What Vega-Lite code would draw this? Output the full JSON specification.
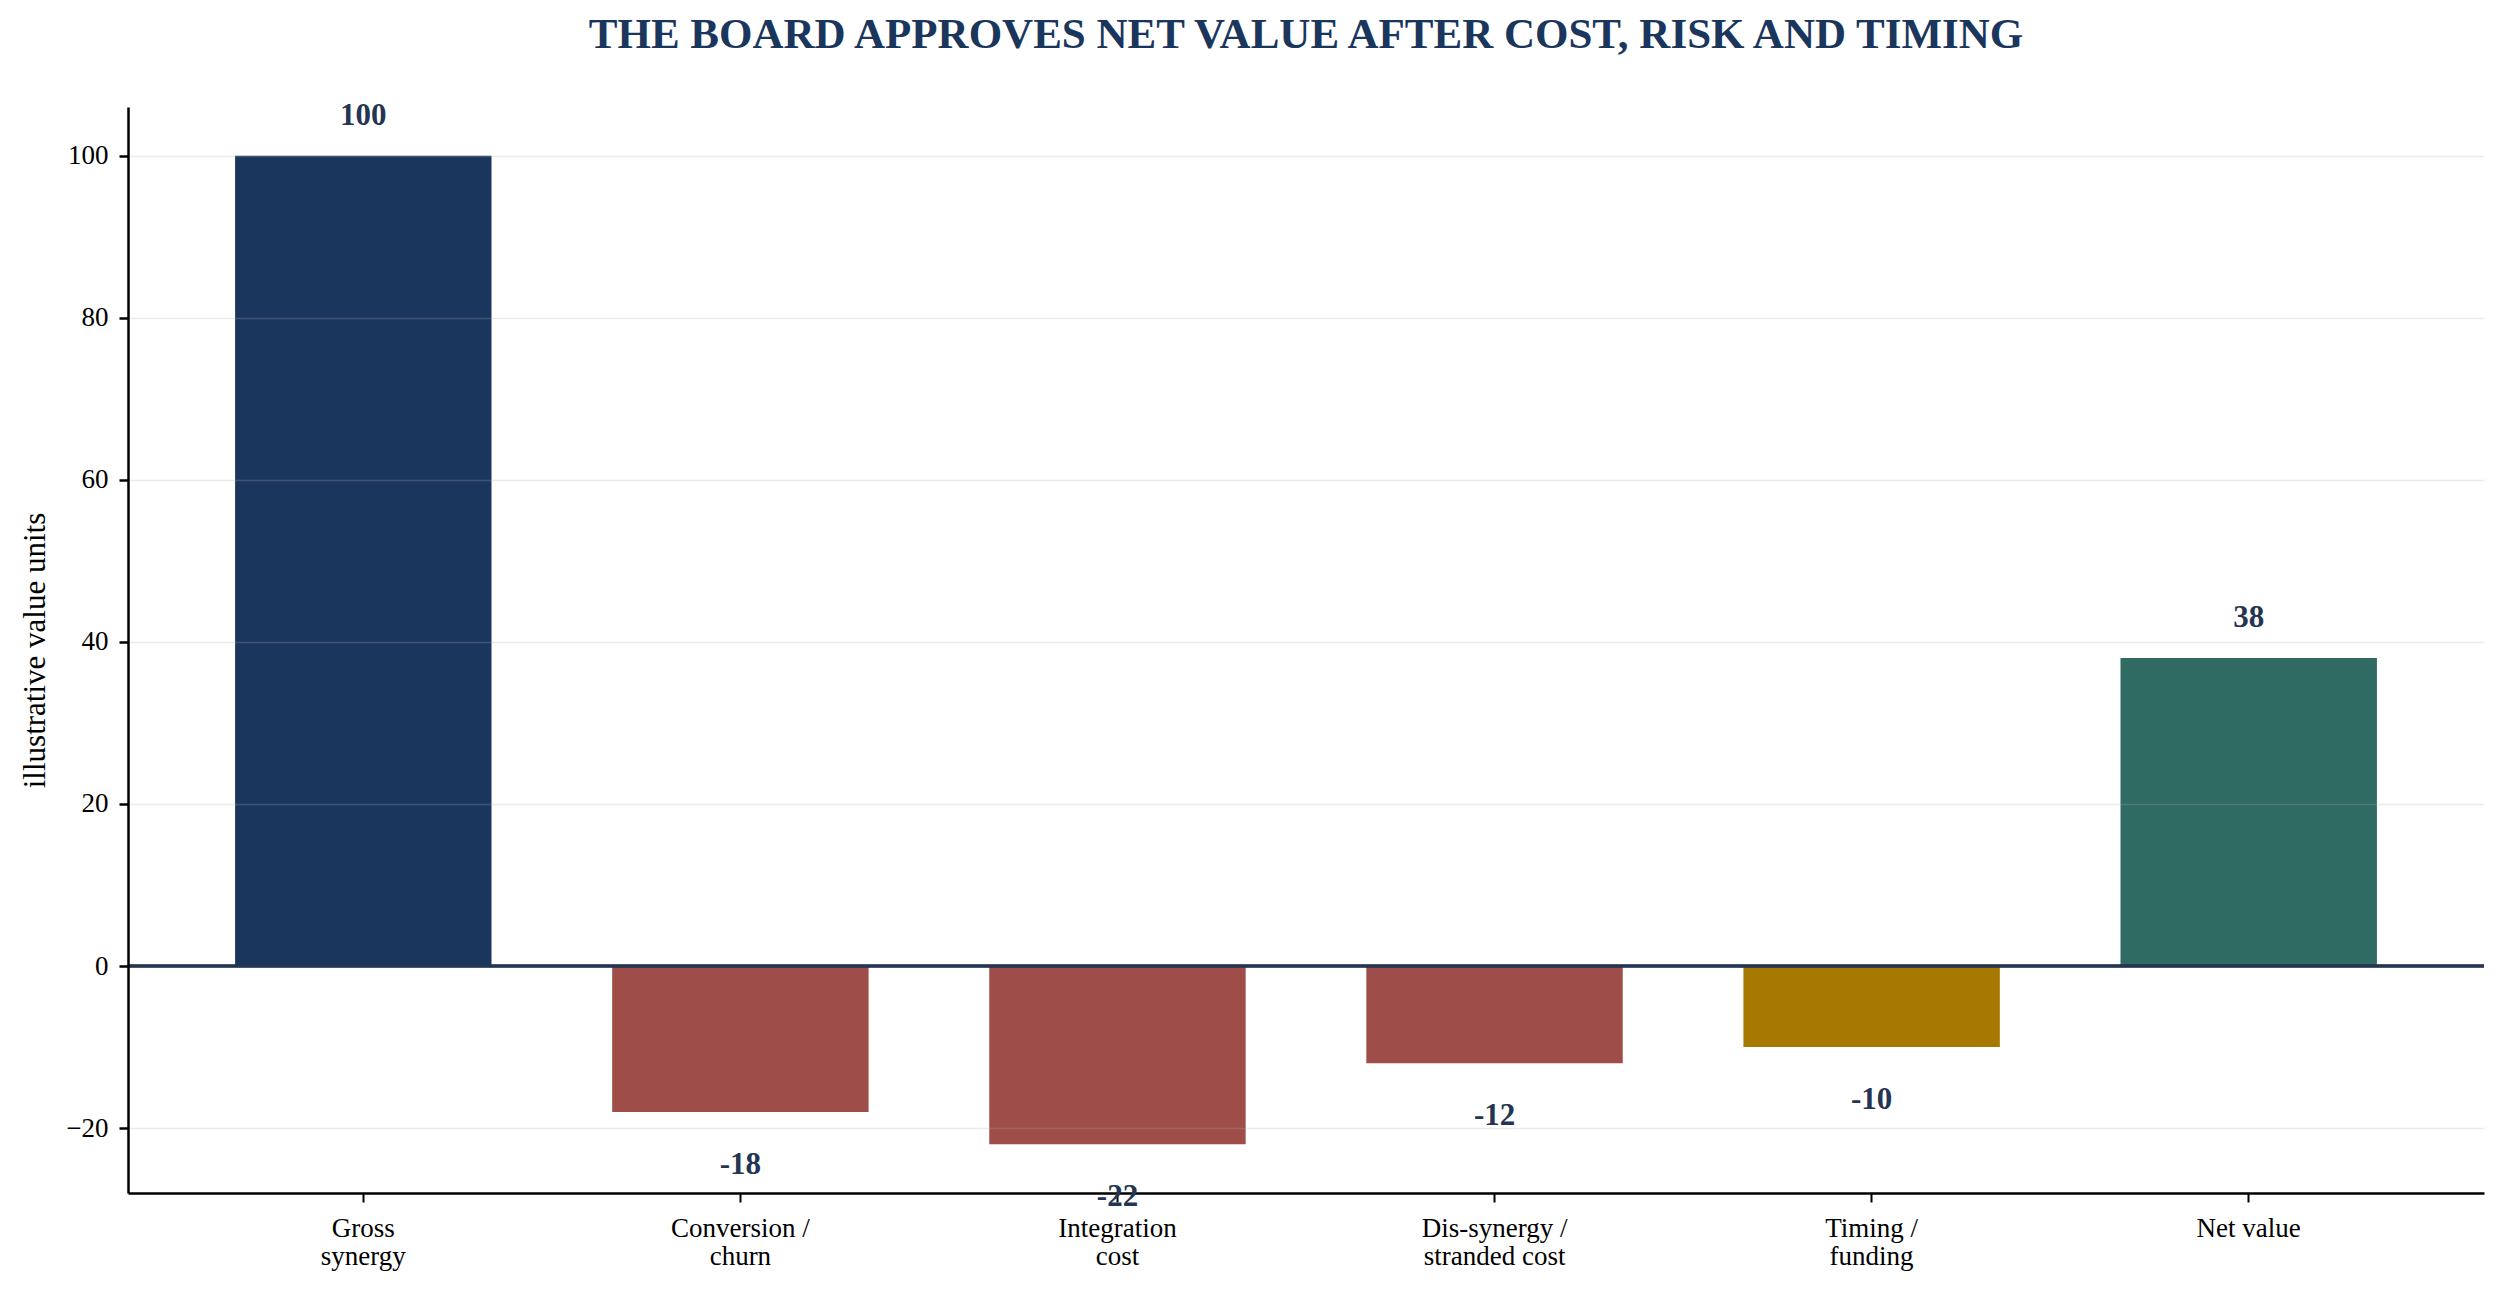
{
  "$schema": "https://vega.github.io/schema/vega-lite/v6.json",
  "description": "Bridge of gross synergy to net value after cost, risk and timing",
  "autosize": {"type": "none"},
  "padding": {"left": 128, "top": 107, "right": 21, "bottom": 105},
  "width": 2356,
  "height": 1086,
  "background": "white",
  "title": {
    "text": "THE BOARD APPROVES NET VALUE AFTER COST, RISK AND TIMING",
    "font": "Liberation Serif",
    "fontSize": 43,
    "fontWeight": "bold",
    "color": "#1B365D",
    "anchor": "middle",
    "frame": "group",
    "baseline": "alphabetic",
    "offset": 9
  },
  "data": {
    "values": [
      {"category": "Gross\nsynergy", "value": 100},
      {"category": "Conversion /\nchurn", "value": -18},
      {"category": "Integration\ncost", "value": -22},
      {"category": "Dis-synergy /\nstranded cost", "value": -12},
      {"category": "Timing /\nfunding", "value": -10},
      {"category": "Net value", "value": 38}
    ]
  },
  "encoding": {
    "x": {
      "field": "category",
      "type": "nominal",
      "sort": null,
      "scale": {"paddingInner": 0.32, "paddingOuter": 0.284},
      "axis": {
        "title": null,
        "labelAngle": 0,
        "labelExpr": "split(datum.label, '\\n')",
        "labelFontSize": 27,
        "labelLineHeight": 28,
        "labelBaseline": "top",
        "labelPadding": 13,
        "labelColor": "black",
        "tickSize": 9,
        "tickWidth": 2,
        "tickColor": "black",
        "domainColor": "black",
        "domainWidth": 2.5,
        "grid": false
      }
    },
    "y": {
      "field": "value",
      "type": "quantitative",
      "scale": {"domain": [-28, 106], "nice": false, "zero": false},
      "axis": {
        "title": "illustrative value units",
        "titleFontSize": 31,
        "titleFontWeight": "normal",
        "titleColor": "black",
        "titlePadding": 14,
        "values": [-20, 0, 20, 40, 60, 80, 100],
        "labelFontSize": 27,
        "labelColor": "black",
        "labelPadding": 11,
        "tickSize": 9,
        "tickWidth": 2.5,
        "tickColor": "black",
        "domainColor": "black",
        "domainWidth": 2.5,
        "grid": true,
        "gridColor": "#b0b0b0",
        "gridWidth": 1.5,
        "gridOpacity": {"condition": {"test": "datum.value === 0", "value": 0}, "value": 0.25},
        "zindex": 1
      }
    }
  },
  "layer": [
    {
      "mark": {"type": "bar"},
      "encoding": {
        "color": {
          "field": "category",
          "type": "nominal",
          "scale": {
            "domain": ["Gross\nsynergy", "Conversion /\nchurn", "Integration\ncost", "Dis-synergy /\nstranded cost", "Timing /\nfunding", "Net value"],
            "range": ["#1B365D", "#9E4D48", "#9E4D48", "#9E4D48", "#A87900", "#2F6B62"]
          },
          "legend": null
        }
      }
    },
    {
      "mark": {"type": "rule", "color": "#243651", "strokeWidth": 2.5},
      "encoding": {"x": {"value": 0}, "x2": {"value": 2356}, "y": {"datum": 0}}
    },
    {
      "transform": [{"filter": "datum.value >= 0"}],
      "mark": {"type": "text", "font": "Liberation Serif", "fontSize": 31, "fontWeight": "bold", "color": "#243551", "baseline": "alphabetic", "dy": -31},
      "encoding": {"text": {"field": "value", "type": "nominal"}}
    },
    {
      "transform": [{"filter": "datum.value < 0"}],
      "mark": {"type": "text", "font": "Liberation Serif", "fontSize": 31, "fontWeight": "bold", "color": "#243551", "baseline": "alphabetic", "dy": 62},
      "encoding": {"text": {"field": "value", "type": "nominal"}}
    }
  ],
  "config": {
    "font": "Liberation Serif",
    "view": {"stroke": null},
    "axis": {"labelFont": "Liberation Serif", "titleFont": "Liberation Serif"}
  }
}
